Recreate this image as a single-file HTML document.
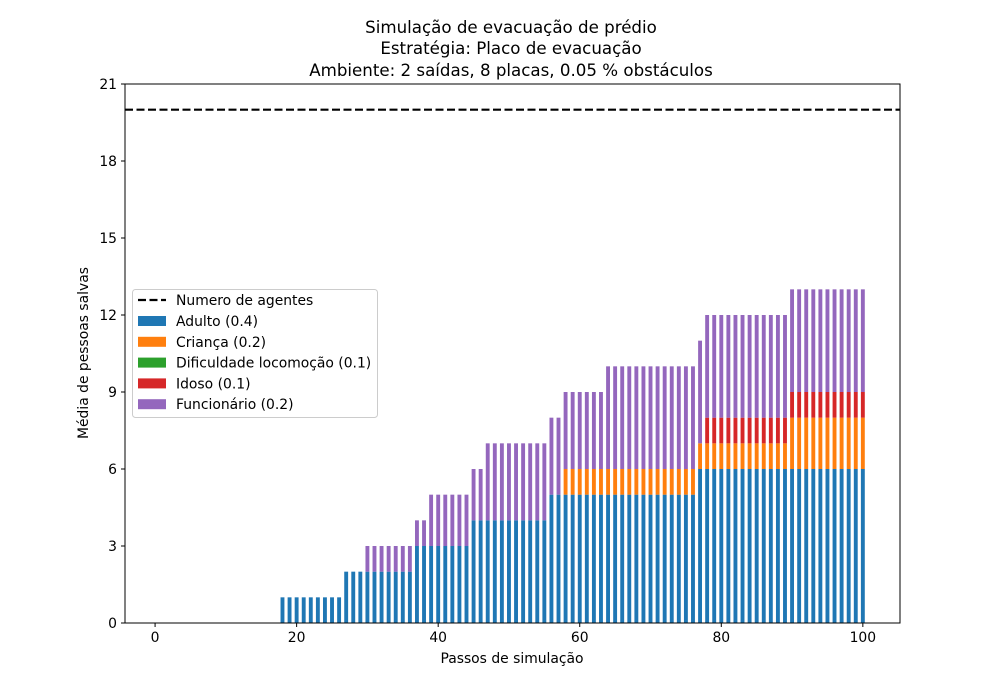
<!DOCTYPE html>
<html><head><meta charset="utf-8"><style>
body{margin:0;background:#fff}
svg{display:block;font-family:"DejaVu Sans","Liberation Sans",sans-serif}
</style></head><body>
<svg id="chart" width="1000" height="700" viewBox="0 0 1000 700">
<rect width="1000" height="700" fill="#fff"/>
<g font-size="16.67" text-anchor="middle" fill="#000">
<text x="511" y="33">Simulação de evacuação de prédio</text>
<text x="511" y="54">Estratégia: Placo de evacuação</text>
<text x="511" y="76">Ambiente: 2 saídas, 8 placas, 0.05 % obstáculos</text>
</g>
<g id="bars"></g>
<g id="axes"></g>
<text x="512" y="663" font-size="13.9" text-anchor="middle">Passos de simulação</text>
<text transform="translate(88,353) rotate(-90)" font-size="13.9" text-anchor="middle">Média de pessoas salvas</text>
<g id="legend"></g>
</svg>
<script>
const steps=[];for(let s=0;s<=100;s++)steps.push(s);
const adulto=[];const crianca=[];const dificuldade=[];const idoso=[];const funcionario=[];
// segments: [start, end, adulto, crianca, idoso, funcionario]
const segments=[[0,17,0,0,0,0],[18,26,1,0,0,0],[27,29,2,0,0,0],[30,36,2,0,0,1],[37,38,3,0,0,1],[39,44,3,0,0,2],[45,46,4,0,0,2],[47,55,4,0,0,3],[56,57,5,0,0,3],[58,63,5,1,0,3],[64,76,5,1,0,4],[77,77,6,1,0,4],[78,89,6,1,1,4],[90,100,6,2,1,4]];
segments.forEach(g=>{for(let s=g[0];s<=g[1];s++){adulto[s]=g[2];crianca[s]=g[3];dificuldade[s]=0;idoso[s]=g[4];funcionario[s]=g[5];}});
const numAgentes=20;
const yTicks=[0,3,6,9,12,15,18,21];
const xTicks=[0,20,40,60,80,100];
const seriesNames=["Adulto (0.4)","Criança (0.2)","Dificuldade locomoção (0.1)","Idoso (0.1)","Funcionário (0.2)"];
const seriesColors=["#1f77b4","#ff7f0e","#2ca02c","#d62728","#9467bd"];
const seriesData=[adulto,crianca,dificuldade,idoso,funcionario];

const L=125,R=900,T=84,B=623,xmin=-4.25,xmax=105.25,ymax=21;
const xs=v=>L+(v-xmin)/(xmax-xmin)*(R-L);
const ys=v=>B-v/ymax*(B-T);
const NS="http://www.w3.org/2000/svg";
function mk(tag,attrs,parent){const e=document.createElementNS(NS,tag);for(const k in attrs)e.setAttribute(k,attrs[k]);parent.appendChild(e);return e;}
const bars=document.getElementById('bars');
const bw=0.55;
steps.forEach((s,i)=>{let base=0;seriesData.forEach((arr,k)=>{const v=arr[i];if(v>0){const r=mk('rect',{x:xs(s-bw/2),y:ys(base+v),width:xs(bw)-xs(0),height:ys(base)-ys(base+v),fill:seriesColors[k]},bars);

}base+=v;});});
const axes=document.getElementById('axes');
const dl=mk('line',{x1:L,x2:R,y1:ys(numAgentes),y2:ys(numAgentes),stroke:'#000','stroke-width':2.2,'stroke-dasharray':'8,3.5'},axes);


const fr=mk('rect',{x:L,y:T,width:R-L,height:B-T,fill:'none',stroke:'#000','stroke-width':1},axes);


yTicks.forEach(t=>{mk('line',{x1:L-4,x2:L,y1:ys(t),y2:ys(t),stroke:'#000'},axes);const tx=mk('text',{x:L-8,y:ys(t)+5,'font-size':13.9,'text-anchor':'end'},axes);tx.textContent=t;

});
xTicks.forEach(t=>{mk('line',{x1:xs(t),x2:xs(t),y1:B,y2:B+4,stroke:'#000'},axes);const tx=mk('text',{x:xs(t),y:B+19,'font-size':13.9,'text-anchor':'middle'},axes);tx.textContent=t;

});
const lg=document.getElementById('legend');
mk('rect',{x:132.5,y:289.5,width:245,height:128,rx:3,fill:'#fff','fill-opacity':0.8,stroke:'#ccc'},lg);
mk('line',{x1:138,x2:166,y1:300,y2:300,stroke:'#000','stroke-width':2.2,'stroke-dasharray':'8,3.5'},lg);
const t0=mk('text',{x:176,y:305,'font-size':13.9},lg);t0.textContent="Numero de agentes";


seriesNames.forEach((n,k)=>{const y=321+k*20.8;mk('rect',{x:138,y:y-5,width:28,height:10,fill:seriesColors[k]},lg);const t=mk('text',{x:176,y:y+5,'font-size':13.9},lg);t.textContent=n;

});
</script>
</body></html>
